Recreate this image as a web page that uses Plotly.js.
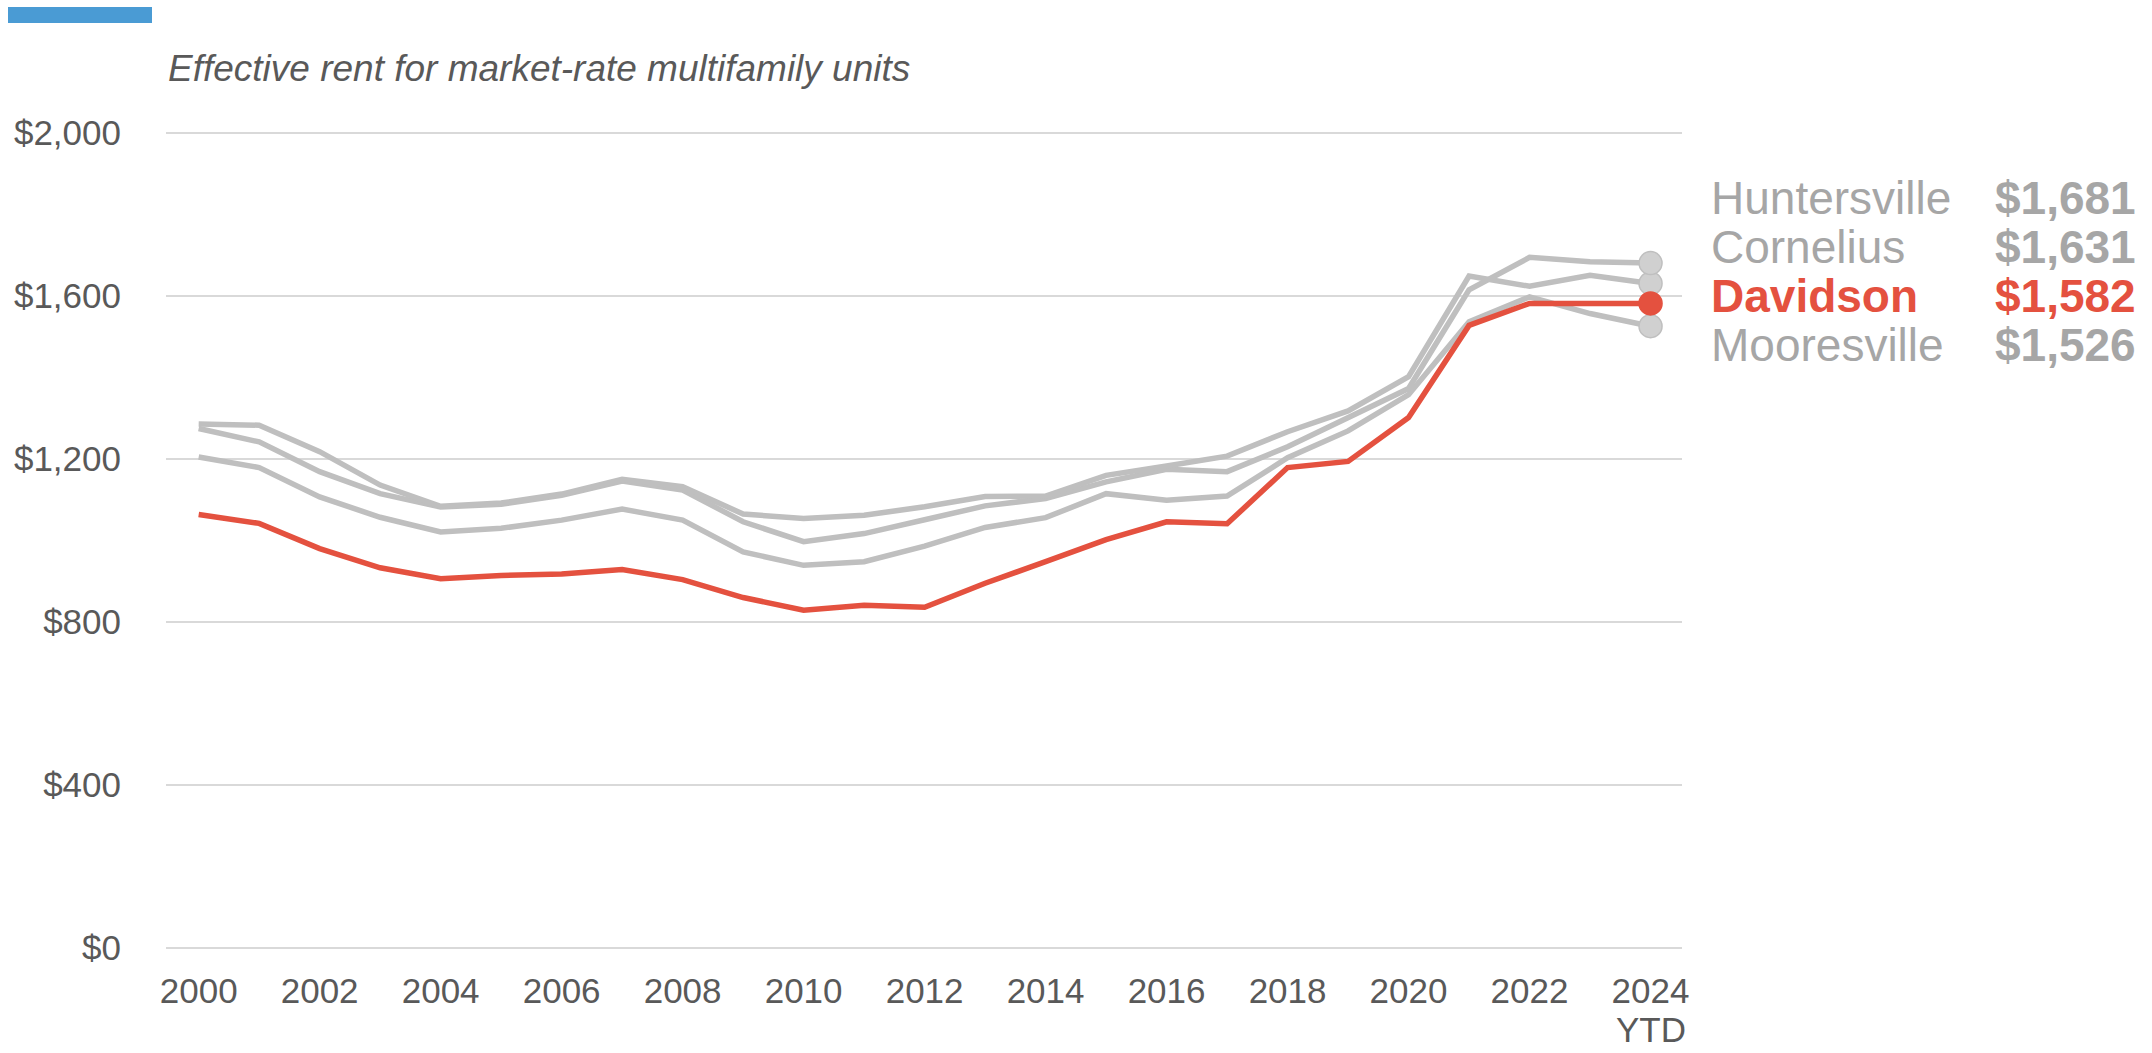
<!DOCTYPE html>
<html>
<head>
<meta charset="utf-8">
<script src="https://cdn.plot.ly/plotly-3.0.1.min.js"></script>
<style>
  html, body { margin: 0; padding: 0; background: #fff; }
  #plotArea { width: 2152px; height: 1053px; }
</style>
</head>
<body>
<div id="plotArea"></div>
<script>
// Effective rent, market-rate multifamily units (2024 = YTD)
var years = [2000, 2001, 2002, 2003, 2004, 2005, 2006, 2007, 2008, 2009, 2010, 2011, 2012,
             2013, 2014, 2015, 2016, 2017, 2018, 2019, 2020, 2021, 2022, 2023, 2024];

var huntersville = [1275, 1242, 1169, 1115, 1082, 1089, 1111, 1146, 1124, 1046, 997, 1017, 1051,
                    1085, 1103, 1144, 1175, 1169, 1230, 1300, 1373, 1615, 1695, 1684, 1681];
var cornelius = [1286, 1283, 1218, 1136, 1084, 1092, 1114, 1150, 1132, 1065, 1054, 1062, 1083,
                 1108, 1109, 1160, 1183, 1207, 1267, 1318, 1402, 1649, 1624, 1651, 1631];
var davidson = [1064, 1042, 980, 933, 906, 914, 918, 929, 904, 860, 829, 841, 836,
                895, 948, 1002, 1046, 1041, 1179, 1194, 1302, 1528, 1582, 1582, 1582];
var mooresville = [1205, 1179, 1107, 1057, 1021, 1030, 1050, 1077, 1050, 972, 939, 948, 986,
                   1032, 1056, 1115, 1099, 1109, 1203, 1269, 1358, 1537, 1598, 1557, 1526];

var tickYears = [2000, 2002, 2004, 2006, 2008, 2010, 2012, 2014, 2016, 2018, 2020, 2022, 2024];
var tickLabels = ["2000", "2002", "2004", "2006", "2008", "2010", "2012", "2014", "2016",
                  "2018", "2020", "2022", "2024"];
var ytdNote = "YTD";
var rentTicks = [0, 400, 800, 1200, 1600, 2000];
var rentLabels = ["$0", "$400", "$800", "$1,200", "$1,600", "$2,000"];

// label order on the right
var labelNames = ["Huntersville", "Cornelius", "Davidson", "Mooresville"];
var labelSeries = [huntersville, cornelius, davidson, mooresville];

var RED = "#E4513F";
var GRAY = "#BFBFBF";
var TEXT_GRAY = "#A6A6A6";
var FONT = "Liberation Sans, Arial, sans-serif";

// page geometry (px); y range padded by 10 so edge gridlines are kept
var W = 2152, H = 1053;
var M = {l: 166, r: 470, t: 129, b: 101};
var plotW = W - M.l - M.r, plotH = H - M.t - M.b;
function px2x(px) { return (px - M.l) / plotW; }
function px2y(py) { return (H - M.b - py) / plotH; }

var last = years.length - 1;

function lineTrace(vals, color) {
    return {
        x: years, y: vals, type: "scatter", mode: "lines",
        line: {color: color, width: 5.5},
        hoverinfo: "skip"
    };
}
function dotTrace(vals, color, fill) {
    return {
        x: [years[last]], y: [vals[last]], type: "scatter", mode: "markers",
        marker: {size: 23, color: fill, line: {color: color, width: 1.5}},
        hoverinfo: "skip"
    };
}

var data = [
    lineTrace(mooresville, GRAY),
    lineTrace(huntersville, GRAY),
    lineTrace(cornelius, GRAY),
    lineTrace(davidson, RED),
    dotTrace(mooresville, GRAY, "#D0D0D0"),
    dotTrace(cornelius, GRAY, "#D0D0D0"),
    dotTrace(huntersville, GRAY, "#D0D0D0"),
    dotTrace(davidson, RED, RED)
];

var rowY = [198, 247, 296, 345];
var annotations = [{
    text: "Effective rent for market-rate multifamily units",
    xref: "paper", yref: "paper", x: px2x(166), y: px2y(68),
    xanchor: "left", yanchor: "middle", showarrow: false,
    font: {family: FONT, size: 37, color: "#595959", style: "italic"}
}, {
    // second line under the last year tick
    text: ytdNote,
    xref: "x", yref: "paper", x: years[last], y: px2y(1029),
    xanchor: "center", yanchor: "middle", showarrow: false,
    font: {family: FONT, size: 35, color: "#595959"}
}];
labelNames.forEach(function(name, i) {
    var isDav = name === "Davidson";
    var col = isDav ? RED : TEXT_GRAY;
    var v = labelSeries[i][last];
    annotations.push({
        text: isDav ? "<b>" + name + "</b>" : name,
        xref: "paper", yref: "paper", x: px2x(1709), y: px2y(rowY[i]),
        xanchor: "left", yanchor: "middle", showarrow: false,
        font: {family: FONT, size: 46, color: col}
    });
    annotations.push({
        text: "<b>$" + v.toLocaleString("en-US") + "</b>",
        xref: "paper", yref: "paper", x: px2x(2138), y: px2y(rowY[i]),
        xanchor: "right", yanchor: "middle", showarrow: false,
        font: {family: FONT, size: 46, color: col}
    });
});

var layout = {
    width: W, height: H,
    margin: M,
    paper_bgcolor: "#fff", plot_bgcolor: "#fff",
    showlegend: false,
    font: {family: FONT, color: "#595959", size: 35},
    xaxis: {
        range: [1999.46, 2024.52],
        tickvals: tickYears, ticktext: tickLabels,
        showgrid: false, zeroline: false, showline: false,
        ticks: "", ticklabelstandoff: 15,
        tickfont: {family: FONT, size: 35, color: "#595959"}
    },
    yaxis: {
        range: [-10, 2010],
        tickvals: rentTicks, ticktext: rentLabels,
        showgrid: true, gridcolor: "#D9D9D9", gridwidth: 2,
        zeroline: false, showline: false,
        ticks: "", ticklabelstandoff: 44,
        tickfont: {family: FONT, size: 35, color: "#595959"}
    },
    shapes: [{
        type: "rect", xref: "paper", yref: "paper",
        x0: px2x(8), x1: px2x(152), y0: px2y(23), y1: px2y(7),
        fillcolor: "#4A9BD4", line: {width: 0}
    }],
    annotations: annotations
};

Plotly.newPlot("plotArea", data, layout, {displayModeBar: false, staticPlot: true});
</script>
</body>
</html>
